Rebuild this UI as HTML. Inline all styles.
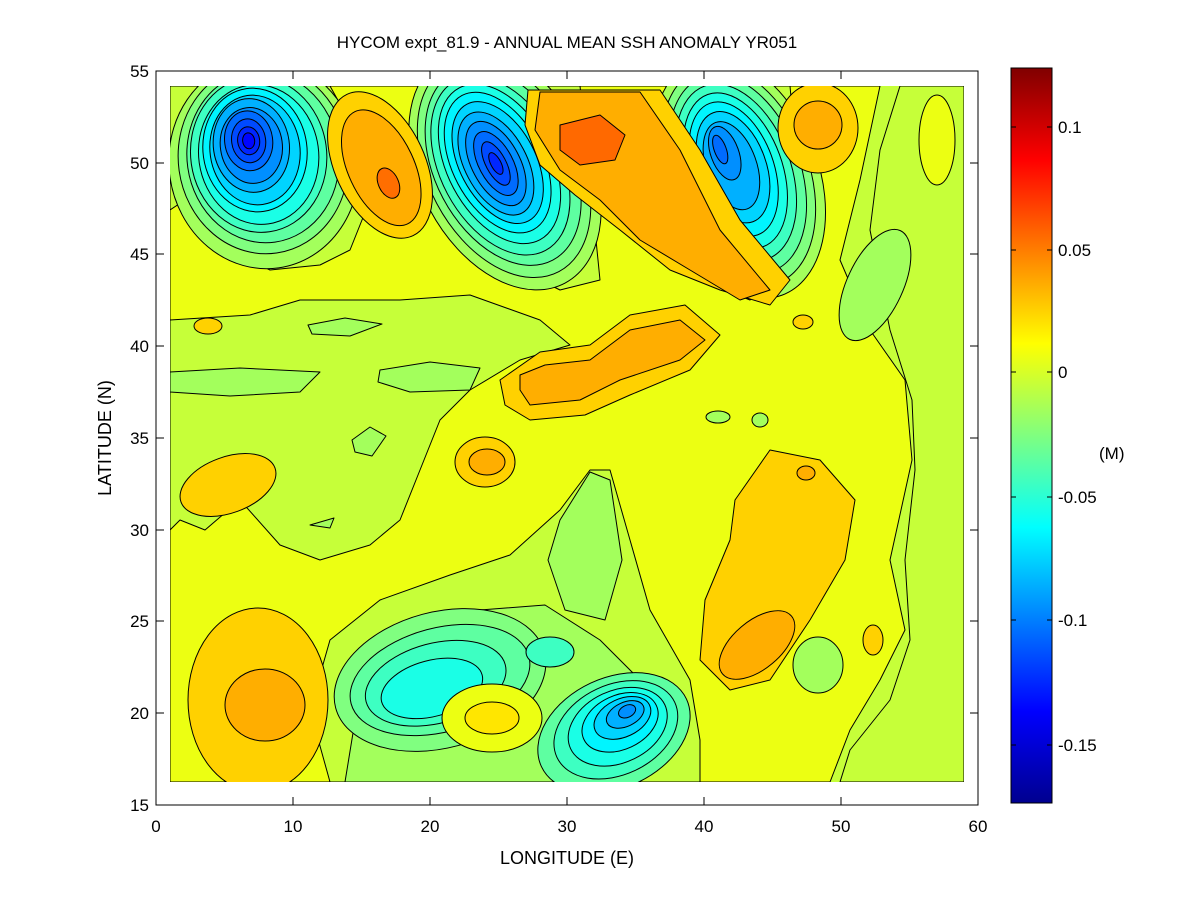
<!DOCTYPE html>
<html><head><meta charset="utf-8"><style>
body{margin:0;background:#fff;}
svg{display:block;font-family:"Liberation Sans",sans-serif;}
</style></head><body>
<svg width="1200" height="901" viewBox="0 0 1200 901" xmlns="http://www.w3.org/2000/svg">
<defs>
<linearGradient id="jet" x1="0" y1="0" x2="0" y2="1">
<stop offset="0" stop-color="#800000"/><stop offset="0.125" stop-color="#ff0000"/>
<stop offset="0.375" stop-color="#ffff00"/><stop offset="0.625" stop-color="#00ffff"/>
<stop offset="0.875" stop-color="#0000ff"/><stop offset="1" stop-color="#00008f"/>
</linearGradient>
<clipPath id="c"><rect x="170" y="86" width="794" height="696"/></clipPath>
</defs>
<rect width="1200" height="901" fill="#fff"/>
<g clip-path="url(#c)" stroke="#000" stroke-width="1" stroke-linejoin="round">
<rect x="170" y="86" width="794" height="696" fill="rgb(198,255,57)" stroke="none"/>
<!-- yellow main -->
<polygon fill="rgb(236,255,18)" points="170,86 880,86 860,180 840,260 870,330 905,380 912,460 890,560 905,630 880,680 850,730 830,782 170,782"/>
<!-- yellow-green overlays -->
<polygon fill="rgb(198,255,57)" points="170,86 330,86 360,140 370,200 350,250 320,265 270,270 230,250 200,230 185,200 170,210"/>
<polygon fill="rgb(198,255,57)" points="420,86 580,86 590,180 600,280 560,290 520,270 470,240 430,180"/>
<polygon fill="rgb(198,255,57)" points="670,86 790,86 800,200 790,270 750,300 700,280 680,200"/>
<polygon fill="rgb(198,255,57)" points="170,320 250,315 300,300 400,300 470,295 540,320 570,345 520,360 470,390 440,420 420,470 400,520 370,545 320,560 280,545 240,500 205,530 180,520 170,530"/>
<polygon fill="rgb(198,255,57)" points="964,86 900,86 880,150 870,230 890,330 912,400 915,470 905,560 910,640 890,700 850,750 840,782 964,782"/>
<polygon fill="rgb(198,255,57)" points="330,782 310,710 330,640 380,600 450,575 510,555 560,510 590,470 610,470 630,540 650,610 690,680 700,740 700,782"/>
<!-- greens -->
<polygon fill="rgb(163,255,92)" points="345,782 360,690 420,632 480,610 545,605 600,640 640,680 660,720 650,760 630,782"/>
<polygon fill="rgb(163,255,92)" points="560,520 590,472 610,480 622,560 605,620 565,610 548,560"/>
<polygon fill="rgb(163,255,92)" points="170,372 240,368 320,372 300,392 230,396 170,392"/>
<polygon fill="rgb(163,255,92)" points="380,370 430,362 480,368 470,390 410,392 378,382"/>
<polygon fill="rgb(163,255,92)" points="308,325 345,318 382,324 350,336 312,334"/>
<polygon fill="rgb(163,255,92)" points="352,440 370,427 386,436 372,456 355,452"/>
<polygon fill="rgb(163,255,92)" points="310,525 334,518 330,528"/>
<ellipse fill="rgb(163,255,92)" cx="875" cy="285" rx="28" ry="60" transform="rotate(25 875 285)"/>
<ellipse fill="rgb(163,255,92)" cx="818" cy="665" rx="25" ry="28"/>
<ellipse fill="rgb(236,255,18)" cx="937" cy="140" rx="18" ry="45"/>
<!-- blob1 -->
<g transform="rotate(-8 255 150)">
<ellipse fill="rgb(163,255,92)" cx="262" cy="165" rx="95" ry="105"/>
<ellipse fill="rgb(128,255,128)" cx="262" cy="160" rx="85" ry="95"/>
<ellipse fill="rgb(94,255,161)" cx="262" cy="158" rx="76" ry="86"/>
<ellipse fill="rgb(61,255,194)" cx="258" cy="155" rx="68" ry="78"/>
<ellipse fill="rgb(26,255,230)" cx="258" cy="155" rx="60" ry="70"/>
<ellipse fill="rgb(0,245,255)" cx="255" cy="150" rx="52" ry="62"/>
<ellipse fill="rgb(0,212,255)" cx="255" cy="150" rx="45" ry="55"/>
<ellipse fill="rgb(0,176,255)" cx="252" cy="145" rx="38" ry="47"/>
<ellipse fill="rgb(0,143,255)" cx="252" cy="145" rx="31" ry="38"/>
<ellipse fill="rgb(0,107,255)" cx="250" cy="140" rx="24" ry="30"/>
<ellipse fill="rgb(0,74,255)" cx="250" cy="140" rx="17" ry="22"/>
<ellipse fill="rgb(0,38,255)" cx="250" cy="140" rx="11" ry="14"/>
<ellipse fill="rgb(0,5,255)" cx="250" cy="140" rx="6" ry="8"/>
</g>
<!-- blob2 -->
<g transform="rotate(-28 505 170)">
<ellipse fill="rgb(163,255,92)" cx="505" cy="170" rx="85" ry="128"/>
<ellipse fill="rgb(128,255,128)" cx="505" cy="168" rx="76" ry="117"/>
<ellipse fill="rgb(94,255,161)" cx="505" cy="166" rx="68" ry="106"/>
<ellipse fill="rgb(61,255,194)" cx="503" cy="164" rx="60" ry="96"/>
<ellipse fill="rgb(26,255,230)" cx="503" cy="162" rx="52" ry="86"/>
<ellipse fill="rgb(0,245,255)" cx="502" cy="160" rx="45" ry="76"/>
<ellipse fill="rgb(0,212,255)" cx="502" cy="160" rx="38" ry="66"/>
<ellipse fill="rgb(0,176,255)" cx="500" cy="160" rx="31" ry="56"/>
<ellipse fill="rgb(0,143,255)" cx="500" cy="160" rx="24" ry="46"/>
<ellipse fill="rgb(0,107,255)" cx="500" cy="160" rx="17" ry="35"/>
<ellipse fill="rgb(0,74,255)" cx="500" cy="160" rx="10" ry="24"/>
<ellipse fill="rgb(0,38,255)" cx="500" cy="160" rx="5" ry="12"/>
</g>
<!-- blob3 -->
<g transform="rotate(-20 738 175)">
<ellipse fill="rgb(163,255,92)" cx="738" cy="178" rx="80" ry="125"/>
<ellipse fill="rgb(128,255,128)" cx="738" cy="176" rx="71" ry="114"/>
<ellipse fill="rgb(94,255,161)" cx="738" cy="174" rx="63" ry="103"/>
<ellipse fill="rgb(61,255,194)" cx="737" cy="172" rx="55" ry="92"/>
<ellipse fill="rgb(26,255,230)" cx="737" cy="170" rx="47" ry="81"/>
<ellipse fill="rgb(0,245,255)" cx="736" cy="168" rx="40" ry="70"/>
<ellipse fill="rgb(0,212,255)" cx="736" cy="166" rx="33" ry="58"/>
<ellipse fill="rgb(0,176,255)" cx="735" cy="164" rx="25" ry="46"/>
<ellipse fill="rgb(0,143,255)" cx="733" cy="150" rx="14" ry="28"/>
<ellipse fill="rgb(0,107,255)" cx="730" cy="145" rx="6" ry="15"/>
</g>
<!-- lower blobs -->
<g transform="rotate(-15 440 680)">
<ellipse fill="rgb(128,255,128)" cx="440" cy="680" rx="108" ry="68"/>
<ellipse fill="rgb(94,255,161)" cx="440" cy="680" rx="92" ry="52"/>
<ellipse fill="rgb(61,255,194)" cx="435" cy="682" rx="72" ry="40"/>
<ellipse fill="rgb(26,255,230)" cx="430" cy="686" rx="52" ry="28"/>
</g>
<ellipse fill="rgb(236,255,18)" cx="492" cy="718" rx="50" ry="34"/>
<ellipse fill="rgb(255,230,0)" cx="492" cy="718" rx="27" ry="16"/>
<g transform="rotate(-25 615 728)">
<ellipse fill="rgb(94,255,161)" cx="612" cy="732" rx="80" ry="55"/>
<ellipse fill="rgb(61,255,194)" cx="615" cy="730" rx="65" ry="45"/>
<ellipse fill="rgb(26,255,230)" cx="618" cy="728" rx="52" ry="36"/>
<ellipse fill="rgb(0,245,255)" cx="622" cy="725" rx="40" ry="27"/>
<ellipse fill="rgb(0,212,255)" cx="626" cy="722" rx="30" ry="19"/>
<ellipse fill="rgb(0,176,255)" cx="630" cy="720" rx="20" ry="12"/>
<ellipse fill="rgb(0,143,255)" cx="633" cy="718" rx="9" ry="6"/>
</g>
<ellipse fill="rgb(61,255,194)" cx="550" cy="652" rx="24" ry="15"/>
<!-- orange areas -->
<g transform="rotate(-25 380 165)">
<ellipse fill="rgb(255,209,0)" cx="380" cy="165" rx="45" ry="78"/>
<ellipse fill="rgb(255,174,0)" cx="380" cy="168" rx="33" ry="62"/>
<ellipse fill="rgb(255,110,0)" cx="380" cy="185" rx="10" ry="16"/>
</g>
<polygon fill="rgb(255,209,0)" points="528,90 660,90 700,150 740,220 790,280 770,305 720,290 670,270 620,230 575,195 540,165 525,125"/>
<polygon fill="rgb(255,174,0)" points="540,92 640,92 680,150 720,230 770,290 740,300 690,270 640,240 600,200 560,170 535,130"/>
<polygon fill="rgb(255,105,0)" points="560,125 600,115 625,135 615,160 580,165 560,150"/>
<polygon fill="rgb(255,209,0)" points="500,380 540,352 590,345 630,315 685,305 720,335 690,370 630,395 585,415 530,420 505,405"/>
<polygon fill="rgb(255,174,0)" points="520,375 545,365 590,360 630,330 680,320 705,340 680,360 620,380 580,400 530,405 520,390"/>
<ellipse fill="rgb(255,209,0)" cx="485" cy="462" rx="30" ry="25"/>
<ellipse fill="rgb(255,174,0)" cx="487" cy="462" rx="18" ry="13"/>
<ellipse fill="rgb(255,209,0)" cx="228" cy="485" rx="50" ry="28" transform="rotate(-20 228 485)"/>
<ellipse fill="rgb(255,209,0)" cx="258" cy="700" rx="70" ry="92"/>
<ellipse fill="rgb(255,174,0)" cx="265" cy="705" rx="40" ry="36"/>
<polygon fill="rgb(255,209,0)" points="735,500 770,450 820,460 855,500 845,560 810,620 770,680 730,690 700,660 705,600 730,540"/>
<ellipse fill="rgb(255,174,0)" cx="757" cy="645" rx="45" ry="24" transform="rotate(-40 757 645)"/>
<ellipse fill="rgb(255,174,0)" cx="806" cy="473" rx="9" ry="7"/>
<ellipse fill="rgb(255,209,0)" cx="818" cy="128" rx="40" ry="45"/>
<ellipse fill="rgb(255,174,0)" cx="818" cy="125" rx="24" ry="24"/>
<ellipse fill="rgb(255,209,0)" cx="208" cy="326" rx="14" ry="8"/>
<ellipse fill="rgb(255,209,0)" cx="803" cy="322" rx="10" ry="7"/>
<ellipse fill="rgb(255,209,0)" cx="873" cy="640" rx="10" ry="15"/>
<ellipse fill="rgb(163,255,92)" cx="718" cy="417" rx="12" ry="6"/>
<ellipse fill="rgb(163,255,92)" cx="760" cy="420" rx="8" ry="7"/>
</g>
<!-- axes frame -->
<rect x="156" y="71" width="822" height="734" fill="none" stroke="#000" stroke-width="1"/>
<g stroke="#000" stroke-width="1">
<path d="M156,805v-8M293,805v-8M430,805v-8M567,805v-8M704,805v-8M841,805v-8M978,805v-8M156,71v8M293,71v8M430,71v8M567,71v8M704,71v8M841,71v8M978,71v8"/>
<path d="M156,71h8M156,163h8M156,254h8M156,346h8M156,438h8M156,530h8M156,621h8M156,713h8M156,805h8M978,71h-8M978,163h-8M978,254h-8M978,346h-8M978,438h-8M978,530h-8M978,621h-8M978,713h-8M978,805h-8"/>
</g>
<g font-size="17" fill="#000" text-anchor="middle">
<text x="156" y="832">0</text><text x="293" y="832">10</text><text x="430" y="832">20</text><text x="567" y="832">30</text><text x="704" y="832">40</text><text x="841" y="832">50</text><text x="978" y="832">60</text>
</g>
<g font-size="17" fill="#000" text-anchor="end">
<text x="149" y="77">55</text><text x="149" y="169">50</text><text x="149" y="260">45</text><text x="149" y="352">40</text><text x="149" y="444">35</text><text x="149" y="536">30</text><text x="149" y="627">25</text><text x="149" y="719">20</text><text x="149" y="811">15</text>
</g>
<text x="567" y="864" font-size="18" text-anchor="middle">LONGITUDE (E)</text>
<text x="0" y="0" font-size="18" text-anchor="middle" transform="translate(111 438) rotate(-90)">LATITUDE (N)</text>
<text x="567" y="48" font-size="17" text-anchor="middle">HYCOM expt_81.9 - ANNUAL MEAN SSH ANOMALY YR051</text>
<!-- colorbar -->
<rect x="1011" y="68" width="41" height="735" fill="url(#jet)" stroke="#000" stroke-width="1"/>
<g stroke="#000" stroke-width="1">
<path d="M1052,127h-5M1052,250h-5M1052,372h-5M1052,497h-5M1052,620h-5M1052,745h-5M1011,127h5M1011,250h5M1011,372h5M1011,497h5M1011,620h5M1011,745h5"/>
</g>
<g font-size="17" fill="#000">
<text x="1058" y="133">0.1</text><text x="1058" y="256">0.05</text><text x="1058" y="378">0</text><text x="1058" y="503">-0.05</text><text x="1058" y="626">-0.1</text><text x="1058" y="751">-0.15</text>
<text x="1099" y="459">(M)</text>
</g>
</svg>
</body></html>
